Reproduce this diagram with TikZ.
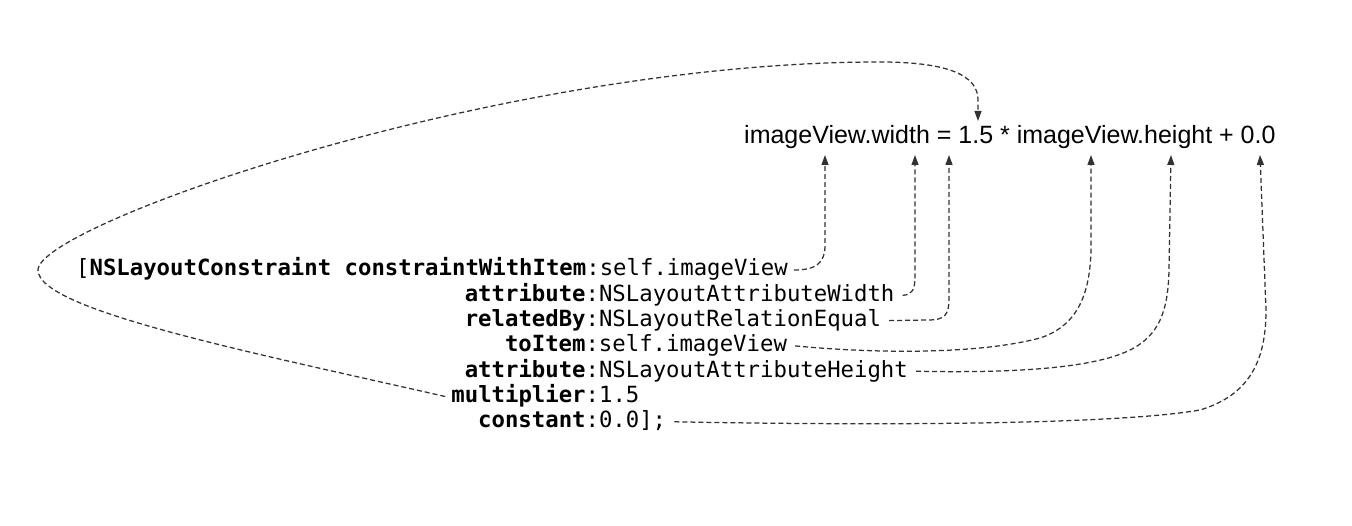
\documentclass[tikz,border=0pt]{standalone}
\usepackage{fontspec}
\setmainfont{Liberation Sans}
\setmonofont{DejaVu Sans Mono}
\usetikzlibrary{arrows.meta,positioning}
\definecolor{linkgray}{RGB}{50,50,50}

\begin{document}
\begin{tikzpicture}[
  x=1pt,y=-1pt,
  codeline/.style={anchor=base west,inner xsep=4pt,inner ysep=0pt,
    text height=12pt,text depth=0pt,font=\fontsize{22.3}{25}\selectfont\ttfamily},
  formula/.style={anchor=base west,inner sep=0pt,font=\fontsize{25}{30}\selectfont},
  link/.style={linkgray,line width=1.25pt,dash pattern=on 5pt off 3pt,
    -{Triangle[length=10pt,width=7pt]}}
]
\useasboundingbox (0,0) rectangle (1352,526);

\node[formula] (eq) at (744,144) {imageView.width = 1.5 * imageView.height + 0.0};
\coordinate (tItem) at (825,155);
\coordinate (tAttrW) at (915,155);
\coordinate (tRel) at (949,155);
\coordinate (tToItem) at (1091,155);
\coordinate (tAttrH) at (1171,155);
\coordinate (tConst) at (1260,155);
\coordinate (tMult) at (978,121);

\node[codeline] (ln1) at (72,276) {[\textbf{NSLayoutConstraint constraintWithItem}:self.imageView};
\node[codeline] (ln2) at (460.6,301.3) {\textbf{attribute}:NSLayoutAttributeWidth};
\node[codeline] (ln3) at (460.6,326.6) {\textbf{relatedBy}:NSLayoutRelationEqual};
\node[codeline] (ln4) at (500.8,351.9) {\textbf{toItem}:self.imageView};
\node[codeline] (ln5) at (460.6,377.2) {\textbf{attribute}:NSLayoutAttributeHeight};
\node[codeline] (ln6) at (447.2,402.5) {\textbf{multiplier}:1.5};
\node[codeline] (ln7) at (474.0,427.8) {\textbf{constant}:0.0];};

\draw[link] ([xshift=2pt]ln1.east) .. controls (815,270) and (825,264) .. (825,245) -- (tItem);
\draw[link] ([xshift=4pt]ln2.east) .. controls (912,295) and (915,290) .. (915,276) -- (tAttrW);
\draw[link] ([xshift=4pt]ln3.east) -- (928,320) .. controls (945,320) and (949,315) .. (949,298) -- (tRel);
\draw[link] ([xshift=4pt]ln4.east) .. controls (880,354) and (980,354) .. (1040,338)
  .. controls (1080,325) and (1090,290) .. (1091,250) -- (tToItem);
\draw[link] ([xshift=4pt]ln5.east) .. controls (1000,373) and (1090,370) .. (1130,350)
  .. controls (1160,335) and (1168,310) .. (1169,270) -- (tAttrH);
\draw[link] ([xshift=4pt]ln7.east) .. controls (900,426) and (1120,424) .. (1200,410)
  .. controls (1250,395) and (1266,360) .. (1266,310) -- (tConst);
\draw[link] ([xshift=-2pt]ln6.west) .. controls (250,352) and (38,310) .. (38,270)
  .. controls (38,225) and (500,62) .. (880,62)
  .. controls (950,62) and (978,76) .. (978,100) -- (tMult);
\end{tikzpicture}
\end{document}
